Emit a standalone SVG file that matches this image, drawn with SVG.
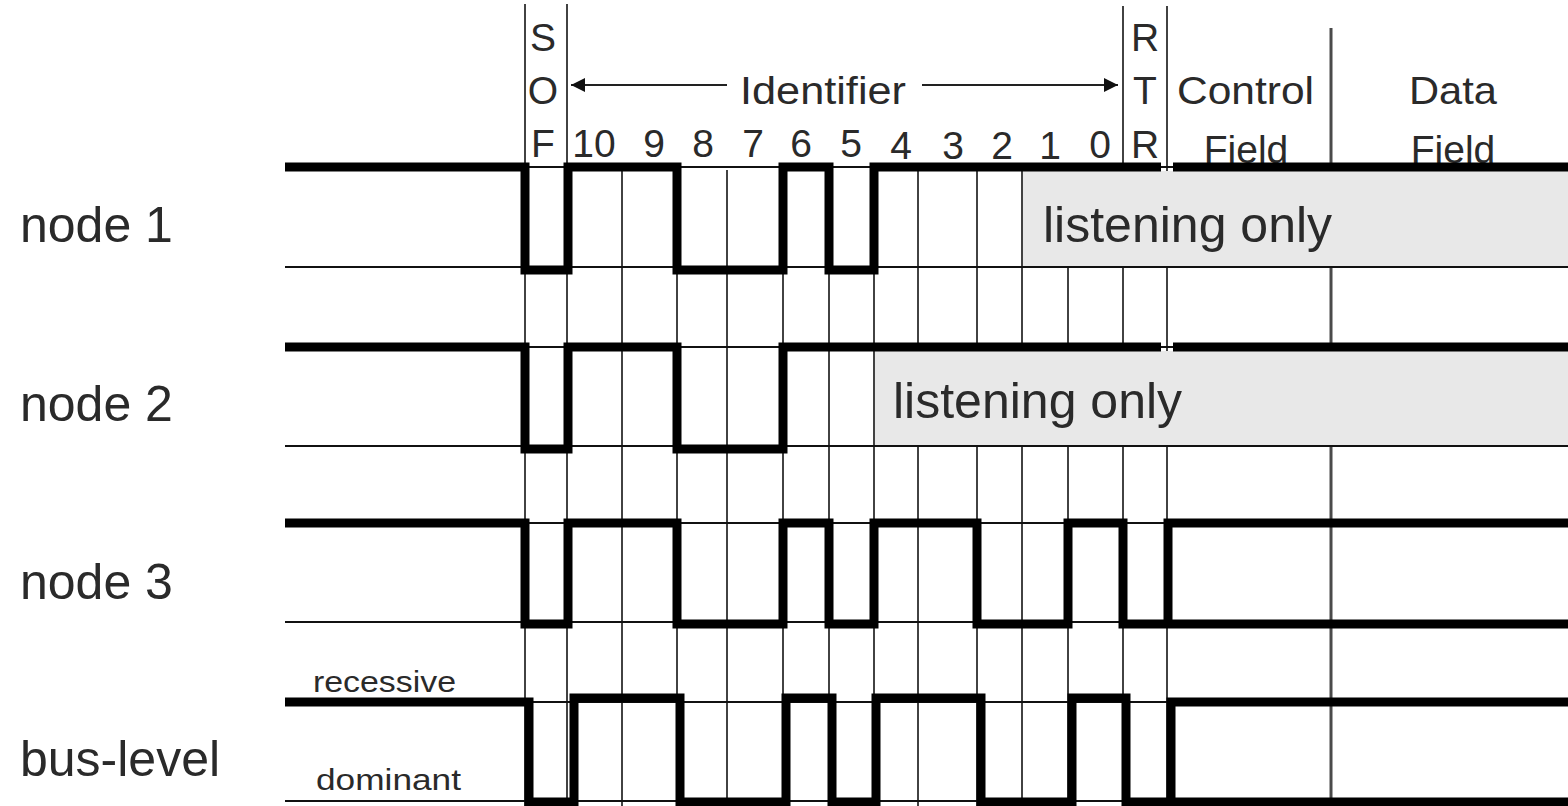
<svg xmlns="http://www.w3.org/2000/svg" width="1568" height="806" viewBox="0 0 1568 806">
<style>
text{font-family:"Liberation Sans",Arial,sans-serif;fill:#2a2a2a}
.hd{font-size:39px;text-anchor:middle}
.lbl{font-size:50px}
.lvl{font-size:30px}
.grid{stroke:#222;stroke-width:1.7;fill:none}
.gridm{stroke:#4a4a4a;stroke-width:3;fill:none}
.thin{stroke:#111;stroke-width:2;fill:none}
.wave{stroke:#000;stroke-width:9;fill:none;stroke-linejoin:miter;stroke-linecap:butt}
.box{fill:#e8e8e8;stroke:none}
.arr{stroke:#222;stroke-width:2;fill:none}
</style>
<defs>
<marker id="ah" viewBox="0 0 10 10" refX="10" refY="5" markerWidth="17" markerHeight="14" markerUnits="userSpaceOnUse" orient="auto-start-reverse">
<path d="M0,0 L10,5 L0,10 z" fill="#111"/>
</marker>
</defs>
<rect width="1568" height="806" fill="#fff"/>

<g id="grid">
<path class="grid" d="M525,4 V806 M567,4 V806 M1123,6 V806 M1167,6 V806"/>
<path class="grid" d="M622,170 V806 M677,170 V806 M727,170 V806 M783,170 V806 M829,170 V806 M874,170 V806 M918,170 V806 M977,170 V806 M1022,170 V806 M1068,170 V806"/>
<path class="gridm" d="M1331,28 V806"/>
</g>

<g id="header">
<text class="hd" x="543" y="51">S</text>
<text class="hd" x="543" y="104">O</text>
<text class="hd" x="543" y="157">F</text>
<text class="hd" x="1145" y="51">R</text>
<text class="hd" x="1145" y="104">T</text>
<text class="hd" x="1145" y="158">R</text>
<text x="740" y="104" font-size="39" textLength="166" lengthAdjust="spacingAndGlyphs">Identifier</text>
<text x="1177" y="104" font-size="39" textLength="137" lengthAdjust="spacingAndGlyphs">Control</text>
<text class="hd" x="1246" y="163">Field</text>
<text class="hd" x="1453" y="104" textLength="88" lengthAdjust="spacingAndGlyphs">Data</text>
<text class="hd" x="1453" y="163">Field</text>
<text class="hd" x="594" y="157">10</text>
<text class="hd" x="654" y="157">9</text>
<text class="hd" x="703" y="157">8</text>
<text class="hd" x="753" y="157">7</text>
<text class="hd" x="801" y="157">6</text>
<text class="hd" x="851" y="157">5</text>
<text class="hd" x="901" y="159">4</text>
<text class="hd" x="953" y="159">3</text>
<text class="hd" x="1002" y="159">2</text>
<text class="hd" x="1050" y="159">1</text>
<text class="hd" x="1100" y="158">0</text>
</g>

<g id="connectors">
<line class="arr" x1="727" y1="85" x2="571" y2="85" marker-end="url(#ah)"/>
<line class="arr" x1="922" y1="85" x2="1118" y2="85" marker-end="url(#ah)"/>
</g>

<g id="node1">
<rect class="box" x="1023" y="171" width="545" height="96"/>
<path class="thin" d="M285,267 H1568 M525,167 H1568"/>
<path class="wave" d="M285,167 H525 V270 H568 V167 H677 V270 H783 V167 H829 V270 H874 V167 H1161 M1173,167 H1568"/>
<text class="lbl" x="20" y="242">node 1</text>
<text class="lbl" x="1043" y="242">listening only</text>
</g>

<g id="node2">
<rect class="box" x="875" y="351" width="693" height="95"/>
<path class="thin" d="M285,446 H1568 M525,347 H1568"/>
<path class="wave" d="M285,347 H525 V449 H568 V347 H677 V449 H783 V347 H1161 M1173,347 H1568"/>
<text class="lbl" x="20" y="421">node 2</text>
<text class="lbl" x="893" y="418">listening only</text>
</g>

<g id="node3">
<path class="thin" d="M285,622 H1568 M525,523 H1568"/>
<path class="wave" d="M285,523 H525 V624 H568 V523 H677 V624 H783 V523 H829 V624 H874 V523 H977 V624 H1068 V523 H1123 V624 H1568 M1168,624 V523 H1568"/>
<text class="lbl" x="20" y="599">node 3</text>
</g>

<g id="bus">
<path class="thin" d="M285,801 H1568 M525,702 H1568"/>
<path class="wave" d="M285,702 H529 V802 H574 V698 H680 V802 H786 V698 H832 V802 H876 V698 H981 V802 H1072 V698 H1126 V802 H1568 M1171,802 V702 H1568"/>
<text class="lbl" x="20" y="776">bus-level</text>
<text class="lvl" x="313" y="692" textLength="143" lengthAdjust="spacingAndGlyphs">recessive</text>
<text class="lvl" x="316" y="790" textLength="145" lengthAdjust="spacingAndGlyphs">dominant</text>
</g>
</svg>
